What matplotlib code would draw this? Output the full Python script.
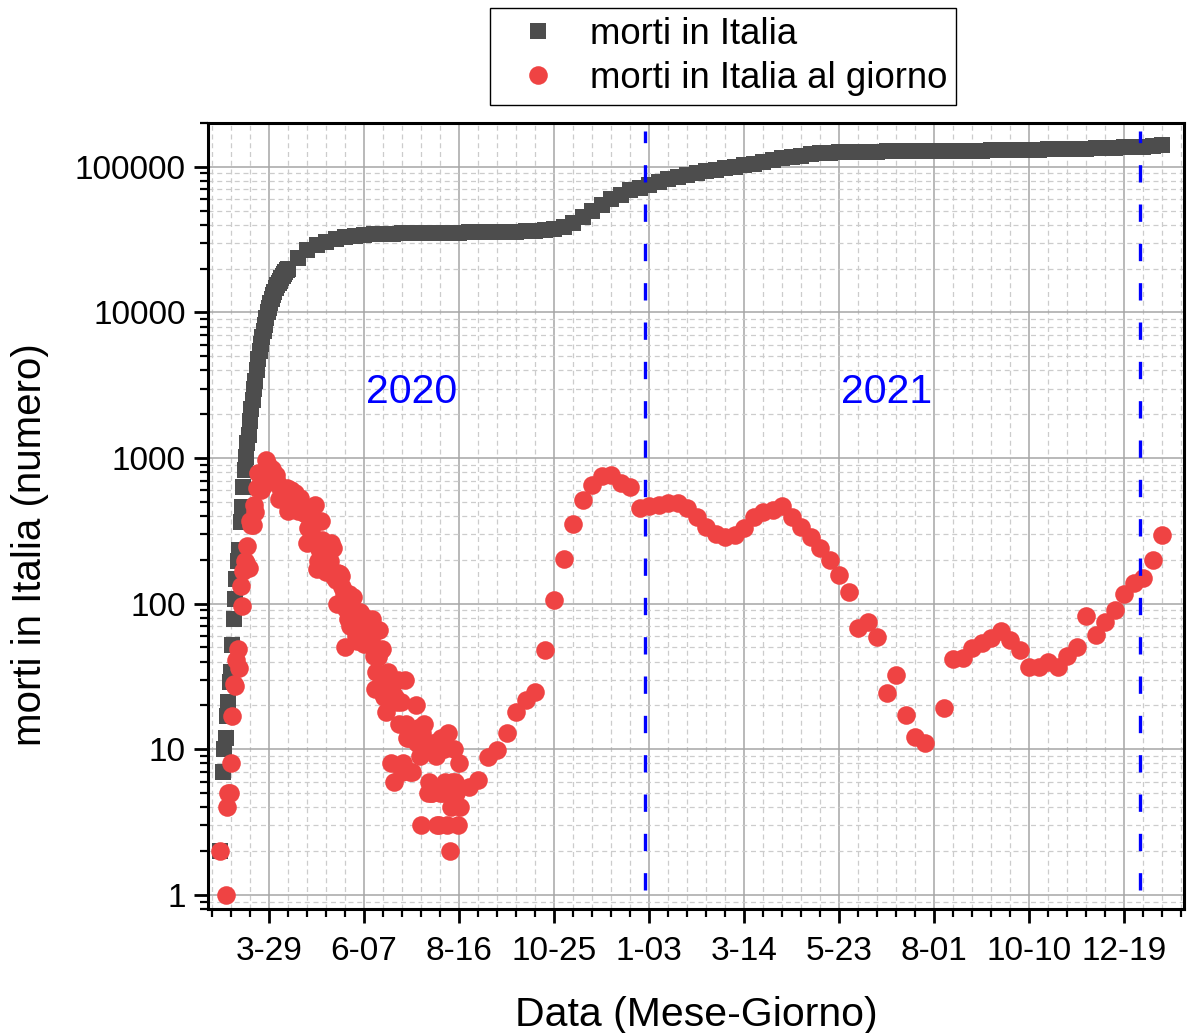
import numpy as np
import pandas as pd
import matplotlib
matplotlib.use("Agg")
import matplotlib.pyplot as plt
from matplotlib.lines import Line2D
from matplotlib.ticker import LogLocator, NullFormatter

nan = np.nan

# ---------------- data ----------------
# cumulative deaths ("morti in Italia"): daily at the start, then weekly (Sundays)
gray_daily_start = "2020-02-22"
gray_daily = [2, nan, 7, 10, 12, 17, 21, 29,
              34, 52, 79, 107, 148, 197, 233, 366, 463, 631, 827, 1016, 1266, 1441,
              1809, 2158, 2503, 2978, 3405, 4032, 4825, 5476, 6077, 6820, 7503, 8165,
              9134, 10023, 10779, 11591, 12428,
              13155, 13915, 14681, 15362, 15887, 16523, 17127, 17669, 18279, 18849,
              19468, 19899]
gray_weekly_start = "2020-04-19"
gray_weekly = [23660, 26644,
               28884, 30560, 31908, 32785, 33415,
               33899, 34345, 34634, 34738,
               34861, 34945, 35042, 35107,
               35146, 35205, 35234, 35437, 35477,
               35541, 35610, 35707, 35818,
               35968, 36166, 36543, 37338,
               38826, 41394, 45229, 49823, 54904,
               60078, 64520, 68799, 71925,
               75332, 78755, 82177, 85461, 88516,
               91273, 93577, 95718, 97699,
               99785, 102145, 104942, 108350,
               111326, 114612, 117243, 119539,
               121738, 123544, 124810, 125793, 126046,
               126588, 127002, 127283, 127500,
               127680, 127775, 127884, 128004,
               128088, 128235, 128456, 128729, 129002,
               129352, 129788, 130167, 130588,
               130921, 131198, 131461, 131724, 132100,
               132391, 132739, 133131, 133674,
               134308, 134995, 135778, 136611,
               137646, 139265, 141825]

# daily deaths ("morti in Italia al giorno")
red_first_dates = ["2020-02-22"]
red_first = [2]
red_daily_start = "2020-02-26"
red_daily = [1, 4, 5, 5,
             8, 17, 28, 27, 41, 49, 36, 133, 97, 168, 196, 189, 250, 175, 368, 349,
             345, 475, 427, 627, 793, 651, 601, 743, 683, 662, 969, 889, 756, 812, 837,
             727, 760, 766, 681, 525, 636, 604, 542, 610, 570, 619, 431, 566, 602, 578,
             525, 575, 482, 433, 454, 534, 437, 464, 420, 415, 260, 333, 382, 323, 285,
             269, 474, 174, 195, 236, 369, 274, 243, 194, 165, 179, 172, 195, 262, 242,
             153, 145, 99, 162, 161, 156, 130, 119, 50, 92, 78, 117, 70, 87, 111, 75,
             60, 55, 71, 88, 85, 72, 53, 65, 79, 71, 53, 56, 78, 44, 26, 34, 43, 66, 47,
             49, 24, 23, 18, 30, 34, 30, 8, 24, 6, 23,
             21, 30, 15, 21, 7, 8, 30, 15, 12, 12, 7, 7, 13, 13, 20, 11, 14, 9, 3, 13,
             15, 11, 10, 5, 6, 5, 5, 11, 11, 9, 3,
             3, 5, 12, 5, 10, 6, 3, 13, 2, 4, 6, 10, 6, 5, 3, 8, 4]
red_weekly_start = "2020-08-23"
red_weekly = [5.5, 6.2, 8.8, 9.9, 12.9, 18, 21.8, 24.8, 48, 106, 202, 352, 514, 651,
              751, 759, 672, 631, 453,
              466, 473, 494, 490, 453, 394, 334, 303, 287, 295, 330, 394, 425,
              439, 467, 394, 334, 287, 240, 199, 157, 120, 68, 75, 59, 24.4,
              32.3, 17.2, 12.2, 11, nan, 19.2, 41.7, 42.3, 49.6, 53.6, 58, 65, 56,
              48, 36.8, 36.8, 39.8, 37, 43.5, 50.5, 82, 61, 74.6, 90, 116, 138,
              150, 199, 297]

year_line_dates = ["2020-12-31", "2021-12-31"]
year_labels = ["2020", "2021"]
year_label_dates = ["2020-07-12", "2021-06-27"]

x_tick_dates = pd.date_range("2020-03-29", periods=10, freq="70D")
x_tick_labels = ["3-29", "6-07", "8-16", "10-25", "1-03", "3-14", "5-23", "8-01", "10-10", "12-19"]
y_ticks = [1, 10, 100, 1000, 10000, 100000]
y_tick_labels = ["1", "10", "100", "1000", "10000", "100000"]

# ---------------- figure ----------------
plt.rcParams["font.family"] = ["Liberation Sans", "DejaVu Sans"]

W, H = 1190, 1033
fig = plt.figure(figsize=(W / 100, H / 100), dpi=100)
ax = fig.add_axes([208 / W, 1 - 909 / H, (1184 - 208) / W, (909 - 123) / H])

gray_color = "#4d4d4d"
red_color = "#ef4343"
sq_ms = 12.0
dot_ms = 13.4

gray_dates = pd.date_range(gray_daily_start, periods=len(gray_daily), freq="D").append(
    pd.date_range(gray_weekly_start, periods=len(gray_weekly), freq="7D"))
gray_vals = np.array(gray_daily + gray_weekly, dtype=float)

red_dates = pd.DatetimeIndex(pd.to_datetime(red_first_dates)).append(
    pd.date_range(red_daily_start, periods=len(red_daily), freq="D")).append(
    pd.date_range(red_weekly_start, periods=len(red_weekly), freq="7D"))
red_vals = np.array(red_first + red_daily + red_weekly, dtype=float)

ax.plot(gray_dates, gray_vals, ls="none", marker="s", ms=sq_ms, mew=0,
        color=gray_color, zorder=3)
ax.plot(red_dates, red_vals, ls="none", marker="o", ms=dot_ms, mew=0,
        color=red_color, zorder=4)

for d in year_line_dates:
    ax.plot([pd.Timestamp(d)] * 2, [1.08, 1.75e5], color="#0000ff", lw=2.4,
            ls=(0, (5.2, 6.6)), zorder=5)

for lab, d in zip(year_labels, year_label_dates):
    ax.text(pd.Timestamp(d), 2850, lab, color="#0000ff", fontsize=29.5,
            ha="center", va="center", zorder=6)

ax.set_yscale("log")
ax.set_ylim(0.8, 2e5)
ax.set_xlim(pd.Timestamp("2020-02-13"), pd.Timestamp("2022-02-01 04:00"))

ax.set_xticks(x_tick_dates)
ax.set_xticklabels(x_tick_labels)
ax.set_xticks(pd.date_range("2020-02-16", "2022-02-01", freq="14D"), minor=True)
ax.set_yticks(y_ticks)
ax.set_yticklabels(y_tick_labels)
ax.yaxis.set_minor_locator(LogLocator(base=10, subs=np.arange(2, 10), numticks=20))
ax.yaxis.set_minor_formatter(NullFormatter())

ax.grid(which="major", color="#a6a6a6", lw=1.1, zorder=0)
ax.grid(which="minor", color="#cccccc", lw=0.9, ls=(0, (4, 3)), zorder=0)
ax.set_axisbelow(True)

for s in ax.spines.values():
    s.set_linewidth(2.2)
    s.set_color("black")
ax.tick_params(which="major", direction="out", length=10, width=2, labelsize=24,
               top=False, right=False)
ax.tick_params(axis="x", which="major", pad=9.5)
ax.tick_params(axis="y", which="major", pad=6)
ax.tick_params(which="minor", direction="out", length=5.5, width=1.6,
               top=False, right=False)

ax.set_xlabel("Data (Mese-Giorno)", fontsize=29.5, labelpad=21)
ax.set_ylabel("morti in Italia (numero)", fontsize=29)
ax.yaxis.set_label_coords((49 - 208) / (1184 - 208), (909 - 545) / (909 - 123))

handles = [Line2D([], [], ls="none", marker="s", ms=sq_ms, mew=0, color=gray_color),
           Line2D([], [], ls="none", marker="o", ms=dot_ms, mew=0, color=red_color)]
leg = fig.legend(handles, ["morti in Italia", "morti in Italia al giorno"],
                 loc="upper left", bbox_to_anchor=(490 / W, 1 - 8 / H),
                 bbox_transform=fig.transFigure, fontsize=26.3, frameon=True,
                 fancybox=False, edgecolor="black", framealpha=1,
                 borderaxespad=0, borderpad=0.24, handlelength=2.16,
                 handletextpad=0.34, labelspacing=0.26)
leg.get_frame().set_linewidth(1.0)

fig.savefig("out.png", dpi=100)
